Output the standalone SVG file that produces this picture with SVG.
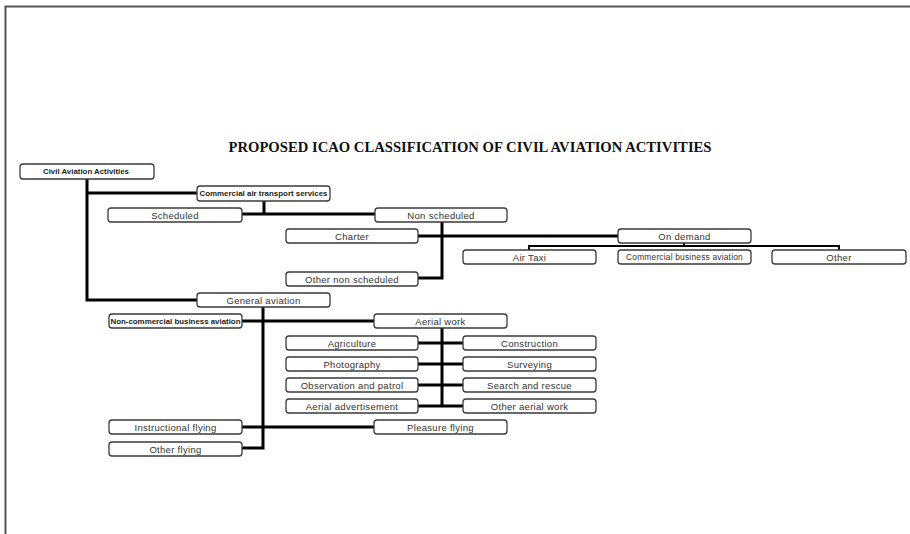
<svg xmlns="http://www.w3.org/2000/svg" width="910" height="534" viewBox="0 0 910 534">
<style>
.b{fill:#fff;stroke:#3a3a3a;stroke-width:1.3}
.t{font-family:"Liberation Sans",Arial,sans-serif;font-size:9.5px;fill:#333;text-anchor:middle;letter-spacing:0.3px}
.s{font-family:"Liberation Sans",Arial,sans-serif;font-size:7px;font-weight:bold;fill:#222;text-anchor:middle}
.c{fill:none;stroke:#000;stroke-width:3}
.c2{fill:none;stroke:#000;stroke-width:2}
</style>
<rect width="910" height="534" fill="#fff"/>
<path d="M5.5 534 V6.5 H910" fill="none" stroke="#555" stroke-width="2"/>
<text x="470" y="152" font-family="'Liberation Serif','Times New Roman',serif" font-weight="bold" font-size="14" text-anchor="middle" textLength="483" lengthAdjust="spacingAndGlyphs" fill="#111">PROPOSED ICAO CLASSIFICATION OF CIVIL AVIATION ACTIVITIES</text>
<g id="connectors">
<path class="c" d="M87 179 V300 H197"/>
<path class="c" d="M87 193 H197"/>
<path class="c" d="M264 201 V214"/>
<path class="c" d="M242 214 H375"/>
<path class="c" d="M442 222 V278 H418"/>
<path class="c" d="M418 236 H618"/>
<path class="c2" d="M684 243 V246"/>
<path class="c2" d="M529 250 V246 H839 V250"/>
<path class="c" d="M263 307 V448 H242"/>
<path class="c" d="M242 321 H374"/>
<path class="c" d="M242 427 H374"/>
<path class="c" d="M442 328 V406"/>
<path class="c" d="M418 343 H463 M418 364 H463 M418 385 H463 M418 406 H463"/>
</g>
<g id="civil"><rect class="b" x="20" y="164" width="134" height="15" rx="3"/><text class="s" x="86" y="174" textLength="86" lengthAdjust="spacingAndGlyphs">Civil Aviation Activities</text></g>
<g id="commercial"><rect class="b" x="197" y="186" width="133" height="15" rx="3"/><text class="s" x="263.5" y="196" textLength="128" lengthAdjust="spacingAndGlyphs">Commercial air transport services</text></g>
<g id="scheduled"><rect class="b" x="108" y="208" width="134" height="14" rx="3"/><text class="t" x="175" y="218.5">Scheduled</text></g>
<g id="nonscheduled"><rect class="b" x="375" y="208" width="132" height="14" rx="3"/><text class="t" x="441" y="218.5">Non scheduled</text></g>
<g id="charter"><rect class="b" x="286" y="229" width="132" height="14" rx="3"/><text class="t" x="352" y="239.5">Charter</text></g>
<g id="othernonsched"><rect class="b" x="286" y="272" width="132" height="14" rx="3"/><text class="t" x="352" y="282.5">Other non scheduled</text></g>
<g id="ondemand"><rect class="b" x="618" y="229" width="133" height="14" rx="3"/><text class="t" x="684.5" y="239.5">On demand</text></g>
<g id="airtaxi"><rect class="b" x="463" y="250" width="133" height="14" rx="3"/><text class="t" x="529.5" y="260.5">Air Taxi</text></g>
<g id="cba"><rect class="b" x="618" y="250" width="133" height="14" rx="3"/><text class="t" x="684.5" y="260.2" style="font-size:8.4px;letter-spacing:0.2px">Commercial business aviation</text></g>
<g id="other"><rect class="b" x="772" y="250" width="134" height="14" rx="3"/><text class="t" x="839" y="260.5">Other</text></g>
<g id="general"><rect class="b" x="197" y="293" width="133" height="14" rx="3"/><text class="t" x="263.5" y="303.5">General aviation</text></g>
<g id="noncommercial"><rect class="b" x="109" y="314" width="133" height="14" rx="3"/><text class="s" x="175.5" y="323.5" textLength="130" lengthAdjust="spacingAndGlyphs">Non-commercial business aviation</text></g>
<g id="aerialwork"><rect class="b" x="374" y="314" width="133" height="14" rx="3"/><text class="t" x="440.5" y="324.5">Aerial work</text></g>
<g id="agriculture"><rect class="b" x="286" y="336" width="132" height="14" rx="3"/><text class="t" x="352" y="346.5">Agriculture</text></g>
<g id="photography"><rect class="b" x="286" y="357" width="132" height="14" rx="3"/><text class="t" x="352" y="367.5">Photography</text></g>
<g id="observation"><rect class="b" x="286" y="378" width="132" height="14" rx="3"/><text class="t" x="352" y="388.5">Observation and patrol</text></g>
<g id="advertisement"><rect class="b" x="286" y="399" width="132" height="14" rx="3"/><text class="t" x="352" y="409.5">Aerial advertisement</text></g>
<g id="construction"><rect class="b" x="463" y="336" width="133" height="14" rx="3"/><text class="t" x="529.5" y="346.5">Construction</text></g>
<g id="surveying"><rect class="b" x="463" y="357" width="133" height="14" rx="3"/><text class="t" x="529.5" y="367.5">Surveying</text></g>
<g id="search"><rect class="b" x="463" y="378" width="133" height="14" rx="3"/><text class="t" x="529.5" y="388.5">Search and rescue</text></g>
<g id="otheraerial"><rect class="b" x="463" y="399" width="133" height="14" rx="3"/><text class="t" x="529.5" y="409.5">Other aerial work</text></g>
<g id="instructional"><rect class="b" x="109" y="420" width="133" height="14" rx="3"/><text class="t" x="175.5" y="430.5">Instructional flying</text></g>
<g id="pleasure"><rect class="b" x="374" y="420" width="133" height="14" rx="3"/><text class="t" x="440.5" y="430.5">Pleasure flying</text></g>
<g id="otherflying"><rect class="b" x="109" y="442" width="133" height="14" rx="3"/><text class="t" x="175.5" y="452.5">Other flying</text></g>
</svg>
